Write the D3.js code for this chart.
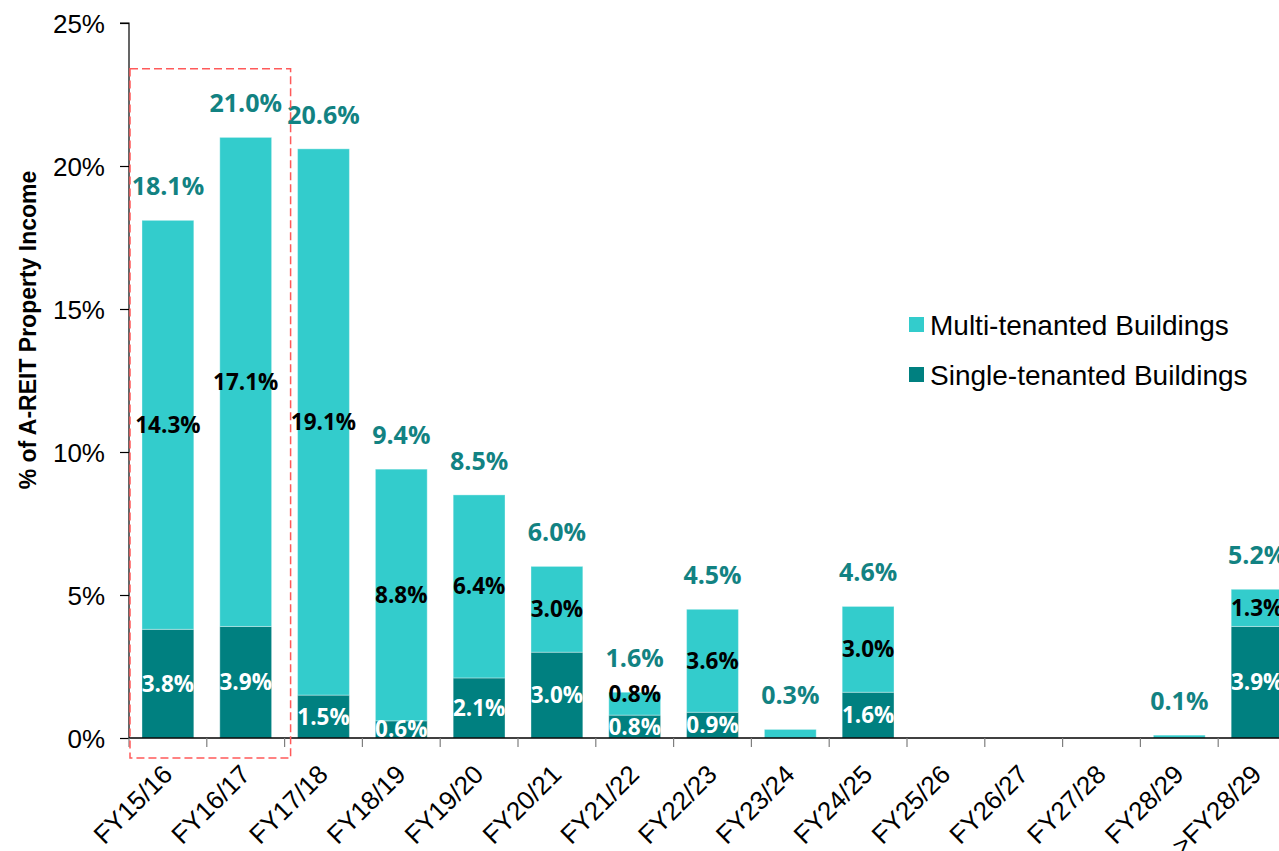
<!DOCTYPE html>
<html>
<head>
<meta charset="utf-8">
<script src="https://cdn.jsdelivr.net/npm/d3@7/dist/d3.min.js"></script>
<style>
  html, body { margin: 0; padding: 0; background: #ffffff; }
  svg { display: block; }
</style>
</head>
<body>
<svg id="chart" width="1279" height="851"></svg>
<script>
// Lease expiry profile by financial year
const categories = ["FY15/16", "FY16/17", "FY17/18", "FY18/19", "FY19/20", "FY20/21", "FY21/22",
                    "FY22/23", "FY23/24", "FY24/25", "FY25/26", "FY26/27", "FY27/28", "FY28/29", ">FY28/29"];
const singleTenanted = [3.8, 3.9, 1.5, 0.6, 2.1, 3.0, 0.8, 0.9, 0, 1.6, 0, 0, 0, 0, 3.9];
const multiTenanted  = [14.3, 17.1, 19.1, 8.8, 6.4, 3.0, 0.8, 3.6, 0.3, 3.0, 0, 0, 0, 0.1, 1.3];
const totals         = [18.1, 21.0, 20.6, 9.4, 8.5, 6.0, 1.6, 4.5, 0.3, 4.6, 0, 0, 0, 0.1, 5.2];
const yTicks = [0, 5, 10, 15, 20, 25];
const seriesNames = ["Multi-tenanted Buildings", "Single-tenanted Buildings"];
const highlight = { from: "FY15/16", to: "FY16/17", top: 23.4 };

const colors = { multi: "#33cccc", single: "#008080", total: "#128282" };
const sansFont = "'Liberation Sans', Arial, Helvetica, sans-serif";
const labelFont = "'Open Sans', Lato, sans-serif";

const svg = d3.select("#chart");

const x0 = 129, yBase = 738, yTop = 23;
const step = 77.8;
const x = d3.scaleBand()
  .domain(categories)
  .range([x0, x0 + step * categories.length])
  .paddingInner(0.334)
  .paddingOuter(0.167);
const y = d3.scaleLinear().domain([0, 25]).range([yBase, yTop]);

const rows = categories.map((c, i) => ({
  cat: c, single: singleTenanted[i], multi: multiTenanted[i], total: totals[i]
}));

// Stacked bars: single-tenanted at the bottom, multi-tenanted on top
const bars = svg.append("g");
bars.selectAll("rect.single")
  .data(rows.filter(d => d.single > 0))
  .join("rect")
  .attr("class", "single")
  .attr("x", d => x(d.cat))
  .attr("width", x.bandwidth())
  .attr("y", d => y(d.single))
  .attr("height", d => y(0) - y(d.single))
  .attr("fill", colors.single)
  .attr("stroke", "rgba(255,255,255,0.35)")
  .attr("stroke-width", 1);

bars.selectAll("rect.multi")
  .data(rows.filter(d => d.multi > 0))
  .join("rect")
  .attr("class", "multi")
  .attr("x", d => x(d.cat))
  .attr("width", x.bandwidth())
  .attr("y", d => y(d.single + d.multi))
  .attr("height", d => y(d.single) - y(d.single + d.multi))
  .attr("fill", colors.multi)
  .attr("stroke", "rgba(255,255,255,0.35)")
  .attr("stroke-width", 1);

// Y axis
const yAxis = svg.append("g").attr("transform", `translate(${x0},0)`)
  .call(d3.axisLeft(y).tickValues(yTicks).tickFormat(d => d + "%").tickSize(9).tickPadding(15));
yAxis.select(".domain").attr("stroke", "#000").attr("stroke-width", 1.2).attr("d", `M-9,${y(25)}H0V${y(0)}`);
yAxis.selectAll(".tick line").attr("stroke", "#000").attr("stroke-width", 1.2);
yAxis.selectAll(".tick text")
  .attr("font-family", sansFont).attr("font-size", 26).attr("fill", "#000").attr("dy", "0.36em");

// X axis: baseline and boundary ticks
const xAxis = svg.append("g");
xAxis.append("line")
  .attr("x1", x0).attr("x2", x.range()[1])
  .attr("y1", yBase).attr("y2", yBase)
  .attr("stroke", "#000").attr("stroke-width", 1.5);
const boundaries = d3.range(categories.length + 1).map(i => x.range()[0] + i * x.step());
xAxis.selectAll("line.tick")
  .data(boundaries)
  .join("line")
  .attr("class", "tick")
  .attr("x1", d => d).attr("x2", d => d)
  .attr("y1", yBase).attr("y2", yBase + 9)
  .attr("stroke", "#7f7f7f").attr("stroke-width", 1.2);
xAxis.selectAll("text")
  .data(categories)
  .join("text")
  .attr("transform", d => `translate(${x(d) + x.bandwidth() / 2 + 6},${yBase + 38}) rotate(-45)`)
  .attr("text-anchor", "end")
  .attr("font-family", sansFont)
  .attr("font-size", 26)
  .attr("fill", "#000")
  .text(d => d);

// Y axis title
svg.append("text")
  .attr("transform", `translate(36,330) rotate(-90)`)
  .attr("text-anchor", "middle")
  .attr("font-family", sansFont)
  .attr("font-weight", "bold")
  .attr("font-size", 23)
  .attr("fill", "#000")
  .text("% of A-REIT Property Income");

// Value labels
const labels = svg.append("g").attr("font-family", labelFont).attr("font-weight", "bold")
  .attr("text-anchor", "middle");
const both = rows.filter(d => d.single > 0 && d.multi > 0);
const singleLabelY = d => y(d.single / 2);
// keep the upper label clear of the lower one on short segments
const multiLabelY = d => Math.min(y(d.single + d.multi / 2), singleLabelY(d) - 33);
labels.selectAll("text.multi")
  .data(both)
  .join("text")
  .attr("class", "multi")
  .attr("x", d => x(d.cat) + x.bandwidth() / 2)
  .attr("y", d => multiLabelY(d) + 8)
  .attr("font-size", 22.5)
  .attr("fill", "#000")
  .text(d => d.multi.toFixed(1) + "%");
labels.selectAll("text.single")
  .data(both)
  .join("text")
  .attr("class", "single")
  .attr("x", d => x(d.cat) + x.bandwidth() / 2)
  .attr("y", d => singleLabelY(d) + 8)
  .attr("font-size", 22.5)
  .attr("fill", "#fff")
  .text(d => d.single.toFixed(1) + "%");
labels.selectAll("text.total")
  .data(rows.filter(d => d.total > 0))
  .join("text")
  .attr("class", "total")
  .attr("x", d => x(d.cat) + x.bandwidth() / 2)
  .attr("y", d => y(d.total) - 25)
  .attr("font-size", 25)
  .attr("fill", colors.total)
  .text(d => d.total.toFixed(1) + "%");

// Highlight box around the first two years
const hx1 = x(highlight.from) - x.step() * x.paddingOuter();
const hx2 = x(highlight.to) + x.bandwidth() + x.step() * x.paddingOuter() + 6;
svg.append("rect")
  .attr("x", hx1 + 1).attr("y", y(highlight.top))
  .attr("width", hx2 - hx1 - 1).attr("height", yBase + 20 - y(highlight.top))
  .attr("fill", "none")
  .attr("stroke", "#ff5a5a")
  .attr("stroke-width", 1.5)
  .attr("stroke-dasharray", "8,4");

// Legend
const legend = svg.append("g").attr("transform", "translate(909,325)");
const legendColors = [colors.multi, colors.single];
const items = legend.selectAll("g").data(seriesNames).join("g")
  .attr("transform", (d, i) => `translate(0,${i * 50})`);
items.append("rect").attr("x", 0).attr("y", -8).attr("width", 15).attr("height", 15)
  .attr("fill", (d, i) => legendColors[i]);
items.append("text").attr("x", 21).attr("y", 10)
  .attr("font-family", sansFont).attr("font-size", 28).attr("fill", "#000")
  .text(d => d);
</script>
</body>
</html>
